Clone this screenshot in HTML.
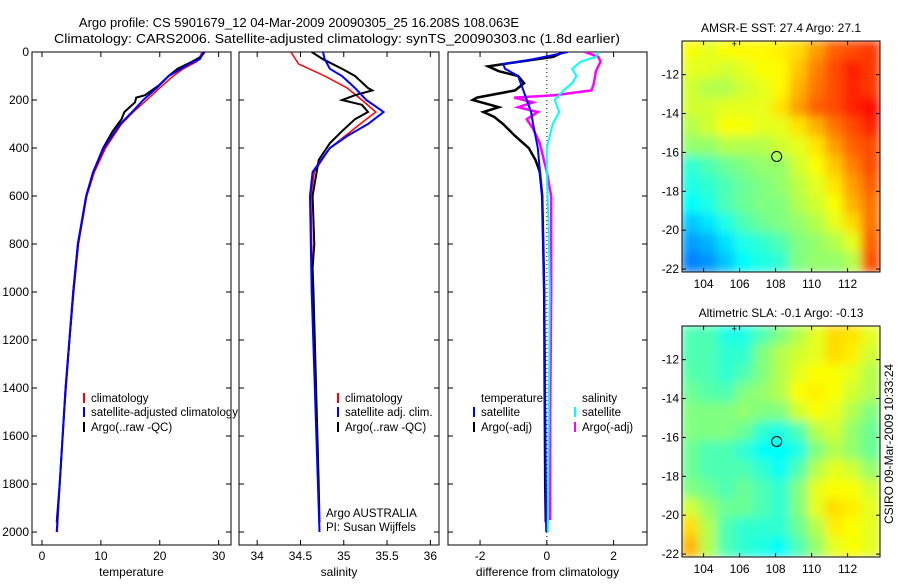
<!DOCTYPE html>
<html><head><meta charset="utf-8"><style>
body{margin:0;background:#fff;}
svg text{font-family:"Liberation Sans",sans-serif;fill:#000;}
</style></head><body>
<svg id="fig" width="900" height="580" viewBox="0 0 900 580" xmlns="http://www.w3.org/2000/svg">
<rect width="900" height="580" fill="#fff"/>
<text x="299" y="27" font-size="13" text-anchor="middle">Argo profile: CS 5901679_12 04-Mar-2009 20090305_25 16.208S 108.063E</text>
<text x="337" y="43" font-size="13" text-anchor="middle" textLength="566" lengthAdjust="spacingAndGlyphs">Climatology: CARS2006. Satellite-adjusted climatology: synTS_20090303.nc (1.8d earlier)</text>
<g id="g1"></g><g id="g2"></g><g id="g3"></g><g id="g4"></g><g id="g5"></g>
<text transform="translate(893,444) rotate(-90)" font-size="12" text-anchor="middle">CSIRO 09-Mar-2009 10:33:24</text>
</svg>
<script>
// ---- data ----
const depthTicks=[0,200,400,600,800,1000,1200,1400,1600,1800,2000];
const tempTicks=[0,10,20,30];
const salTicks=[34,34.5,35,35.5,36];
const diffTicks=[-2,0,2];
const tempClimDepth=[0,20,40,70,100,150,200,250,300,400,500,600,800,1000,1200,1400,1600,1800,2000];
const tempClim=[27.2,26.8,26.3,24,22.3,20,17.8,15.5,13.5,10.8,8.9,7.6,6.2,5.4,4.7,4.1,3.5,3.0,2.6];
const tempSatDepth=[0,30,50,100,150,200,250,300,400,500,600,800,1000,1400,1800,2000];
const tempSat=[27.4,26.8,25,21.5,19.5,17.2,15.3,13.3,10.5,8.7,7.5,6.1,5.3,4,3,2.5];
const tempArgoDepth=[0,20,40,70,100,140,180,190,210,250,280,330,400,500,600,800,1000,1400,1800,1960];
const tempArgo=[27.6,27,25.5,23,21.5,19.8,17.5,16,15.8,14,13.5,12,10.4,8.7,7.5,6.1,5.3,4,3,2.5];
const salClimDepth=[0,50,100,150,200,250,300,400,500,600,1000,2000];
const salClim=[34.39,34.48,34.78,35.04,35.21,35.37,35.19,34.84,34.66,34.62,34.64,34.72];
const salSatDepth=[0,30,70,100,150,200,250,300,350,400,500,600,1000,2000];
const salSat=[34.76,34.78,34.84,34.98,35.13,35.26,35.46,35.28,35.04,34.84,34.64,34.61,34.63,34.72];
const salArgoDepth=[0,30,70,100,150,160,180,200,220,250,280,330,380,450,600,800,900,1000,1800,1960];
const salArgo=[34.63,34.76,34.98,35.13,35.28,35.33,35.13,34.98,35.21,35.28,35.13,34.98,34.84,34.71,34.64,34.66,34.64,34.65,34.71,34.72];
const dTSatDepth=[0,30,50,70,100,150,200,250,300,350,400,600,1000,2000];
const dTSat=[0.63,-0.41,-1.31,-1.25,-0.86,-0.73,-0.6,-0.47,-0.41,-0.34,-0.27,-0.14,-0.08,-0.02];
const dTArgoDepth=[0,20,40,60,80,100,130,160,190,200,230,250,270,300,350,400,450,500,600,1000,1800,1960];
const dTArgo=[0.5,0.2,-0.8,-1.76,-1.44,-0.86,-0.68,-0.95,-2.09,-2.22,-1.44,-1.9,-1.58,-1.31,-0.95,-0.54,-0.34,-0.21,-0.14,-0.08,-0.05,-0.03];
const dSSatDepth=[0,20,40,70,100,130,160,200,250,300,400,500,700,1000,2000];
const dSSat=[1.54,1.47,1.02,0.76,0.89,0.76,0.5,0.24,0.37,0.18,0.0,0.0,0.05,0.09,0.03];
const dSArgoDepth=[0,20,40,80,130,160,180,190,210,230,250,280,320,380,500,600,1000,1500,1950];
const dSArgo=[1.14,1.54,1.61,1.47,1.41,1.34,0.24,-0.98,-0.41,-0.86,-0.27,-0.6,-0.41,-0.21,0,0.13,0.13,0.1,0.1];
const lonTicks=[104,106,108,110,112];
const latTicks=[-12,-14,-16,-18,-20,-22];
const sstGrid=[
[0.62,0.6,0.62,0.63,0.63,0.64,0.66,0.72,0.78,0.8,0.82],
[0.6,0.6,0.58,0.6,0.62,0.63,0.68,0.75,0.8,0.85,0.82],
[0.58,0.55,0.55,0.58,0.6,0.63,0.7,0.76,0.8,0.84,0.82],
[0.58,0.58,0.6,0.6,0.6,0.65,0.72,0.78,0.8,0.84,0.86],
[0.55,0.58,0.62,0.62,0.6,0.6,0.65,0.7,0.76,0.8,0.84],
[0.52,0.52,0.55,0.55,0.55,0.58,0.6,0.65,0.72,0.78,0.8],
[0.42,0.45,0.48,0.5,0.52,0.52,0.58,0.62,0.68,0.75,0.8],
[0.4,0.42,0.45,0.48,0.5,0.52,0.56,0.6,0.65,0.72,0.78],
[0.38,0.4,0.45,0.48,0.5,0.5,0.55,0.58,0.62,0.7,0.76],
[0.32,0.35,0.4,0.45,0.48,0.5,0.52,0.55,0.6,0.66,0.76],
[0.28,0.3,0.35,0.4,0.42,0.45,0.5,0.52,0.55,0.6,0.78],
[0.25,0.27,0.32,0.38,0.4,0.42,0.5,0.52,0.52,0.55,0.8]];
const slaGrid=[
[0.45,0.45,0.4,0.4,0.45,0.5,0.55,0.6,0.66,0.65,0.6],
[0.45,0.45,0.42,0.42,0.5,0.55,0.58,0.6,0.66,0.64,0.58],
[0.46,0.45,0.42,0.45,0.5,0.55,0.6,0.62,0.62,0.6,0.55],
[0.48,0.46,0.45,0.5,0.52,0.55,0.62,0.64,0.62,0.58,0.55],
[0.5,0.5,0.5,0.52,0.5,0.5,0.58,0.62,0.6,0.55,0.5],
[0.5,0.5,0.5,0.48,0.42,0.4,0.45,0.55,0.58,0.52,0.48],
[0.48,0.45,0.45,0.42,0.38,0.38,0.4,0.5,0.55,0.52,0.48],
[0.48,0.45,0.45,0.45,0.42,0.38,0.45,0.55,0.6,0.58,0.52],
[0.5,0.48,0.45,0.48,0.45,0.42,0.5,0.6,0.62,0.62,0.58],
[0.58,0.52,0.48,0.48,0.45,0.42,0.5,0.6,0.66,0.64,0.6],
[0.66,0.55,0.45,0.42,0.42,0.42,0.48,0.55,0.64,0.62,0.6],
[0.7,0.55,0.45,0.42,0.4,0.38,0.45,0.52,0.6,0.62,0.6]];
const floatPos=[108.06,-16.21];

// ---- helpers ----
const NS='http://www.w3.org/2000/svg';
function mk(parent,tag,attrs){const e=document.createElementNS(NS,tag);for(const k in attrs)e.setAttribute(k,attrs[k]);parent.appendChild(e);return e;}
const Y0=52,Y1=545,D0=0,D1=2054;
const yD=d=>Y0+(d-D0)/(D1-D0)*(Y1-Y0);
function panel(g,x0,x1,xmin,xmax,ticks,title,name,showY){
  const xs=v=>x0+(v-xmin)/(xmax-xmin)*(x1-x0);
  const r=mk(g,'rect',{x:x0,y:Y0,width:x1-x0,height:Y1-Y0,fill:'#fff',stroke:'#000','stroke-width':1});
  
  
  const cp=mk(g,'clipPath',{id:'cp-'+name});mk(cp,'rect',{x:x0,y:Y0,width:x1-x0,height:Y1-Y0});
  ticks.forEach(t=>{const x=xs(t);
    mk(g,'line',{x1:x,y1:Y1,x2:x,y2:Y1-5,stroke:'#000'});mk(g,'line',{x1:x,y1:Y0,x2:x,y2:Y0+5,stroke:'#000'});
    const tx=mk(g,'text',{x:x,y:Y1+15,'font-size':12,'text-anchor':'middle'});tx.textContent=String(t);
    
    });
  depthTicks.forEach(d=>{const y=yD(d);
    mk(g,'line',{x1:x0,y1:y,x2:x0+5,y2:y,stroke:'#000'});mk(g,'line',{x1:x1,y1:y,x2:x1-5,y2:y,stroke:'#000'});
    if(showY){const tx=mk(g,'text',{x:x0-3,y:y+4,'font-size':12,'text-anchor':'end'});tx.textContent=String(d);
      
      }});
  const tt=mk(g,'text',{x:(x0+x1)/2,y:576,'font-size':12,'text-anchor':'middle'});tt.textContent=title;
  
  
  return xs;
}
function line(g,xs,depths,vals,color,w,name,clip){
  const pts=vals.map((v,i)=>xs(v).toFixed(1)+','+yD(depths[i]).toFixed(1)).join(' ');
  const p=mk(g,'polyline',{points:pts,fill:'none',stroke:color,'stroke-width':w,'clip-path':'url(#cp-'+clip+')'});
  
  
}
function legend(g,mx,tx,y,color,label,name){
  if(color) mk(g,'line',{x1:mx,y1:y-9,x2:mx,y2:y+1,stroke:color,'stroke-width':2});
  const t=mk(g,'text',{x:tx,y:y,'font-size':11.5});t.textContent=label;
  
  
}
// Panel 1 temperature
const g1=document.getElementById('g1');
const xT=panel(g1,32,231,-1.7,32.1,tempTicks,'temperature','temperature-panel',true);
line(g1,xT,tempClimDepth,tempClim,'#f00',1.5,'temperature-climatology-line','temperature-panel');
line(g1,xT,tempArgoDepth,tempArgo,'#000',2,'temperature-argo-line','temperature-panel');
line(g1,xT,tempSatDepth,tempSat,'#00f',2,'temperature-satellite-line','temperature-panel');
legend(g1,84,91,402,'#f00','climatology','legend-entry-climatology');
legend(g1,84,91,416,'#00f','satellite-adjusted climatology','legend-entry-satellite-adjusted');
legend(g1,84,91,431,'#000','Argo(..raw -QC)','legend-entry-argo');
// Panel 2 salinity
const g2=document.getElementById('g2');
const xS=panel(g2,239,439,33.79,36.1,salTicks,'salinity','salinity-panel',false);
line(g2,xS,salClimDepth,salClim,'#f00',1.5,'salinity-climatology-line','salinity-panel');
line(g2,xS,salArgoDepth,salArgo,'#000',2,'salinity-argo-line','salinity-panel');
line(g2,xS,salSatDepth,salSat,'#00f',2,'salinity-satellite-line','salinity-panel');
legend(g2,338,345,402,'#f00','climatology','legend-entry-sal-climatology');
legend(g2,338,345,416,'#00f','satellite adj. clim.','legend-entry-sal-satellite');
legend(g2,338,345,431,'#000','Argo(..raw -QC)','legend-entry-sal-argo');
legend(g2,0,326,517,null,'Argo AUSTRALIA','argo-australia-label');
legend(g2,0,326,531,null,'PI: Susan Wijffels','pi-label');
// Panel 3 difference
const g3=document.getElementById('g3');
const xD=panel(g3,448,647,-2.96,3.0,diffTicks,'difference from climatology','difference-panel',false);
mk(g3,'line',{x1:xD(0),y1:Y0,x2:xD(0),y2:Y1,stroke:'#000','stroke-dasharray':'1,3'});
line(g3,xD,dTArgoDepth,dTArgo,'#000',2.5,'temp-diff-argo-line','difference-panel');
line(g3,xD,dSArgoDepth,dSArgo,'#f0f',2.5,'sal-diff-argo-line','difference-panel');
line(g3,xD,dTSatDepth,dTSat,'#00f',2,'temp-diff-satellite-line','difference-panel');
line(g3,xD,dSSatDepth,dSSat,'#0ff',2,'sal-diff-satellite-line','difference-panel');
legend(g3,0,481,402,null,'temperature','legend-title-temperature');
legend(g3,0,582,402,null,'salinity','legend-title-salinity');
legend(g3,474,481,416,'#00f','satellite','legend-entry-temp-satellite');
legend(g3,474,481,431,'#000','Argo(-adj)','legend-entry-temp-argo');
legend(g3,575,582,416,'#0ff','satellite','legend-entry-sal-satellite');
legend(g3,575,582,431,'#f0f','Argo(-adj)','legend-entry-sal-argo');
// Maps
function jet(v){v=Math.max(0,Math.min(1,v));
  const r=Math.max(0,Math.min(1,1.5-Math.abs(4*v-3))),g=Math.max(0,Math.min(1,1.5-Math.abs(4*v-2))),b=Math.max(0,Math.min(1,1.5-Math.abs(4*v-1)));
  return 'rgb('+Math.round(r*255)+','+Math.round(g*255)+','+Math.round(b*255)+')';}
function map(g,top,grid,title,name){
  const x0=682,x1=880,bot=top+231,lon0=102.8,lon1=113.8,lat0=-10.27,lat1=-22.15;
  const xs=l=>x0+(l-lon0)/(lon1-lon0)*(x1-x0);
  const ys=l=>top+(l-lat0)/(lat1-lat0)*(bot-top);
  const tt=mk(g,'text',{x:781,y:top-9,'font-size':12,'text-anchor':'middle'});tt.textContent=title;
  
  
  const cp=mk(g,'clipPath',{id:'cp-'+name});mk(cp,'rect',{x:x0,y:top,width:x1-x0,height:bot-top});
  const flt=mk(g,'filter',{id:'bl-'+name,x:'-5%',y:'-5%',width:'110%',height:'110%'});mk(flt,'feGaussianBlur',{stdDeviation:5});
  const cg=mk(g,'g',{'clip-path':'url(#cp-'+name+')'});
  const ig=mk(cg,'g',{filter:'url(#bl-'+name+')'});
  const nr=grid.length,nc=grid[0].length,dlon=(lon1-lon0)/nc,dlat=(lat1-lat0)/nr;
  grid.forEach((row,i)=>row.forEach((v,j)=>{
    const c=mk(ig,'rect',{x:xs(lon0+j*dlon)-1,y:ys(lat0+i*dlat)-1,width:xs(lon0+dlon)-x0+2,height:ys(lat0+dlat)-top+2,fill:jet(v)});
    
    }));
  mk(g,'rect',{x:x0,y:top,width:x1-x0,height:bot-top,fill:'none',stroke:'#000'});
  lonTicks.forEach(l=>{const x=xs(l);mk(g,'line',{x1:x,y1:bot,x2:x,y2:bot-4,stroke:'#000'});mk(g,'line',{x1:x,y1:top,x2:x,y2:top+4,stroke:'#000'});
    const t=mk(g,'text',{x:x,y:bot+16,'font-size':12,'text-anchor':'middle'});t.textContent=String(l);
    
    });
  latTicks.forEach(l=>{const y=ys(l);mk(g,'line',{x1:x0,y1:y,x2:x0+4,y2:y,stroke:'#000'});mk(g,'line',{x1:x1,y1:y,x2:x1-4,y2:y,stroke:'#000'});
    const t=mk(g,'text',{x:x0-3,y:y+4,'font-size':12,'text-anchor':'end'});t.textContent=String(l);
    
    });
  const c=mk(g,'circle',{cx:xs(floatPos[0]),cy:ys(floatPos[1]),r:5,fill:'none',stroke:'#000'});
  
  
  mk(g,'text',{x:xs(105.7),y:top+6,'font-size':9,'text-anchor':'middle'}).textContent='+';
}
map(document.getElementById('g4'),41,sstGrid,'AMSR-E SST: 27.4 Argo: 27.1','sst-map');
map(document.getElementById('g5'),326,slaGrid,'Altimetric SLA: -0.1 Argo: -0.13','sla-map');
</script>
</body></html>
